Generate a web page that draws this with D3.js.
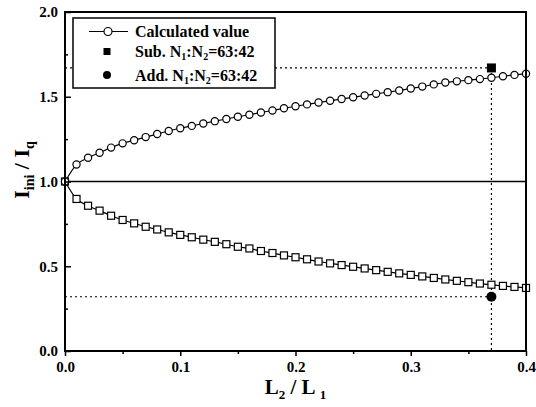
<!DOCTYPE html>
<html>
<head>
<meta charset="utf-8">
<script src="https://cdn.jsdelivr.net/npm/d3@7"></script>
<style>
  body { margin: 0; background: #fff; }
  text { font-family: "Liberation Serif", "DejaVu Serif", serif; font-weight: bold; fill: #000; }
</style>
</head>
<body>
<svg id="chart" width="536" height="407"></svg>
<script>
// data
var ratios = [0.00, 0.01, 0.02, 0.03, 0.04, 0.05, 0.06, 0.07, 0.08, 0.09,
              0.10, 0.11, 0.12, 0.13, 0.14, 0.15, 0.16, 0.17, 0.18, 0.19,
              0.20, 0.21, 0.22, 0.23, 0.24, 0.25, 0.26, 0.27, 0.28, 0.29,
              0.30, 0.31, 0.32, 0.33, 0.34, 0.35, 0.36, 0.37, 0.38, 0.39, 0.40];
var calcUpper = [1.000, 1.100, 1.140, 1.170, 1.200, 1.225, 1.243, 1.262, 1.280, 1.298,
                 1.314, 1.328, 1.342, 1.356, 1.369, 1.382, 1.394, 1.407, 1.419, 1.432,
                 1.444, 1.455, 1.466, 1.476, 1.487, 1.497, 1.507, 1.517, 1.527, 1.537,
                 1.549, 1.560, 1.573, 1.584, 1.591, 1.598, 1.604, 1.612, 1.621, 1.629, 1.636];
var calcLower = [1.000, 0.897, 0.857, 0.828, 0.798, 0.773, 0.753, 0.733, 0.717, 0.700,
                 0.685, 0.671, 0.657, 0.644, 0.630, 0.615, 0.605, 0.590, 0.578, 0.564,
                 0.553, 0.541, 0.528, 0.517, 0.507, 0.497, 0.487, 0.477, 0.467, 0.458,
                 0.449, 0.440, 0.431, 0.422, 0.414, 0.406, 0.398, 0.391, 0.384, 0.378, 0.372];
var subPoint = {x: 0.37, y: 1.67};
var addPoint = {x: 0.37, y: 0.32};
var xTicks = [0.0, 0.1, 0.2, 0.3, 0.4];
var yTicks = [0.0, 0.5, 1.0, 1.5, 2.0];

var svg = d3.select("#chart");
var pLeft = 65, pRight = 526, pTop = 12, pBottom = 351;

var x = d3.scaleLinear().domain([0, 0.4]).range([pLeft, pRight]);
var y = d3.scaleLinear().domain([0, 2.0]).range([pBottom, pTop]);

// reference line at 1.0
svg.append("line")
    .attr("x1", x(0)).attr("x2", x(0.4))
    .attr("y1", y(1)).attr("y2", y(1))
    .attr("stroke", "#000").attr("stroke-width", 1.5);

// dotted guides
var dots = svg.append("g")
    .attr("stroke", "#000").attr("stroke-width", 1.2)
    .attr("stroke-dasharray", "2,3");
dots.append("line")
    .attr("x1", x(0)).attr("x2", x(subPoint.x))
    .attr("y1", y(subPoint.y)).attr("y2", y(subPoint.y));
dots.append("line")
    .attr("x1", x(subPoint.x)).attr("x2", x(subPoint.x))
    .attr("y1", y(subPoint.y)).attr("y2", y(0));
dots.append("line")
    .attr("x1", x(0)).attr("x2", x(addPoint.x))
    .attr("y1", y(addPoint.y)).attr("y2", y(addPoint.y));

// calculated curves
var line = d3.line()
    .x(function(d) { return x(d[0]); })
    .y(function(d) { return y(d[1]); })
    .curve(d3.curveMonotoneX);

var upper = ratios.map(function(r, i) { return [r, calcUpper[i]]; });
var lower = ratios.map(function(r, i) { return [r, calcLower[i]]; });

svg.append("path").datum(upper).attr("d", line)
    .attr("fill", "none").attr("stroke", "#000").attr("stroke-width", 1.2);
svg.append("path").datum(lower).attr("d", line)
    .attr("fill", "none").attr("stroke", "#000").attr("stroke-width", 1.2);

svg.append("g").selectAll("rect").data(lower).enter().append("rect")
    .attr("x", function(d) { return x(d[0]) - 3.5; })
    .attr("y", function(d) { return y(d[1]) - 3.5; })
    .attr("width", 7).attr("height", 7)
    .attr("fill", "#fff").attr("stroke", "#000").attr("stroke-width", 1.2);

svg.append("g").selectAll("circle").data(upper).enter().append("circle")
    .attr("cx", function(d) { return x(d[0]); })
    .attr("cy", function(d) { return y(d[1]); })
    .attr("r", 3.6)
    .attr("fill", "#fff").attr("stroke", "#000").attr("stroke-width", 1.2);

// measured points
svg.append("rect")
    .attr("x", x(subPoint.x) - 4.5).attr("y", y(subPoint.y) - 4.5)
    .attr("width", 9).attr("height", 9).attr("fill", "#000");
svg.append("circle")
    .attr("cx", x(addPoint.x)).attr("cy", y(addPoint.y))
    .attr("r", 5).attr("fill", "#000");

// axes
var xAxis = svg.append("g")
    .attr("transform", "translate(0," + pBottom + ")")
    .call(d3.axisBottom(x).tickValues(xTicks).tickFormat(d3.format(".1f")).tickSize(5).tickPadding(5));
svg.append("g")
    .attr("transform", "translate(0," + pBottom + ")")
    .call(d3.axisBottom(x).tickValues([0.05, 0.15, 0.25, 0.35]).tickFormat("").tickSize(3));

svg.append("g")
    .attr("transform", "translate(" + pLeft + ",0)")
    .call(d3.axisRight(y).tickValues(yTicks).tickFormat("").tickSize(6));
svg.append("g")
    .attr("transform", "translate(" + pLeft + ",0)")
    .call(d3.axisRight(y).tickValues([0.25, 0.75, 1.25, 1.75]).tickFormat("").tickSize(3));

svg.selectAll(".domain").remove();
svg.selectAll(".tick line").attr("stroke", "#000").attr("stroke-width", 1.5);
xAxis.selectAll("text").style("font-size", "15px");

svg.append("g").selectAll("text").data(yTicks).enter().append("text")
    .attr("x", pLeft - 7)
    .attr("y", function(d) { return y(d); })
    .attr("dy", "0.35em")
    .attr("text-anchor", "end")
    .style("font-size", "15px")
    .text(function(d) { return d.toFixed(1); });

// frame
svg.append("rect")
    .attr("x", pLeft).attr("y", pTop)
    .attr("width", pRight - pLeft).attr("height", pBottom - pTop)
    .attr("fill", "none").attr("stroke", "#000").attr("stroke-width", 2);

// axis titles
var xt = svg.append("text")
    .attr("x", (pLeft + pRight) / 2).attr("y", 394)
    .attr("text-anchor", "middle").style("font-size", "21px");
xt.append("tspan").text("L");
xt.append("tspan").style("font-size", "13px").attr("dy", 5).text("2");
xt.append("tspan").attr("dy", -5).text(" /  L ");
xt.append("tspan").style("font-size", "13px").attr("dy", 5).text("1");

var yt = svg.append("text")
    .attr("transform", "translate(29,170) rotate(-90)")
    .attr("text-anchor", "middle").style("font-size", "22px");
yt.append("tspan").text("I");
yt.append("tspan").style("font-size", "14px").attr("dy", 5).text("ini");
yt.append("tspan").attr("dy", -5).text(" / I");
yt.append("tspan").style("font-size", "14px").attr("dy", 5).text("q");

// legend
var lg = svg.append("g");
lg.append("rect")
    .attr("x", 73).attr("y", 18).attr("width", 202).attr("height", 70)
    .attr("fill", "#fff").attr("stroke", "#000").attr("stroke-width", 1.5);
lg.append("line")
    .attr("x1", 89).attr("x2", 128).attr("y1", 31.5).attr("y2", 31.5)
    .attr("stroke", "#000").attr("stroke-width", 1.2);
lg.append("circle")
    .attr("cx", 108).attr("cy", 31.5).attr("r", 4)
    .attr("fill", "#fff").attr("stroke", "#000").attr("stroke-width", 1.2);
lg.append("rect")
    .attr("x", 103.5).attr("y", 48).attr("width", 7).attr("height", 7).attr("fill", "#000");
lg.append("circle")
    .attr("cx", 107).attr("cy", 75).attr("r", 4).attr("fill", "#000");

lg.append("text").attr("x", 135).attr("y", 37).style("font-size", "16px").text("Calculated value");

var t2 = lg.append("text").attr("x", 135).attr("y", 57).style("font-size", "16px");
t2.append("tspan").text("Sub. N");
t2.append("tspan").style("font-size", "10px").attr("dy", 3).text("1");
t2.append("tspan").attr("dy", -3).text(":N");
t2.append("tspan").style("font-size", "10px").attr("dy", 3).text("2");
t2.append("tspan").attr("dy", -3).text("=63:42");

var t3 = lg.append("text").attr("x", 135).attr("y", 81).style("font-size", "16px");
t3.append("tspan").text("Add. N");
t3.append("tspan").style("font-size", "10px").attr("dy", 3).text("1");
t3.append("tspan").attr("dy", -3).text(":N");
t3.append("tspan").style("font-size", "10px").attr("dy", 3).text("2");
t3.append("tspan").attr("dy", -3).text("=63:42");
</script>
</body>
</html>
